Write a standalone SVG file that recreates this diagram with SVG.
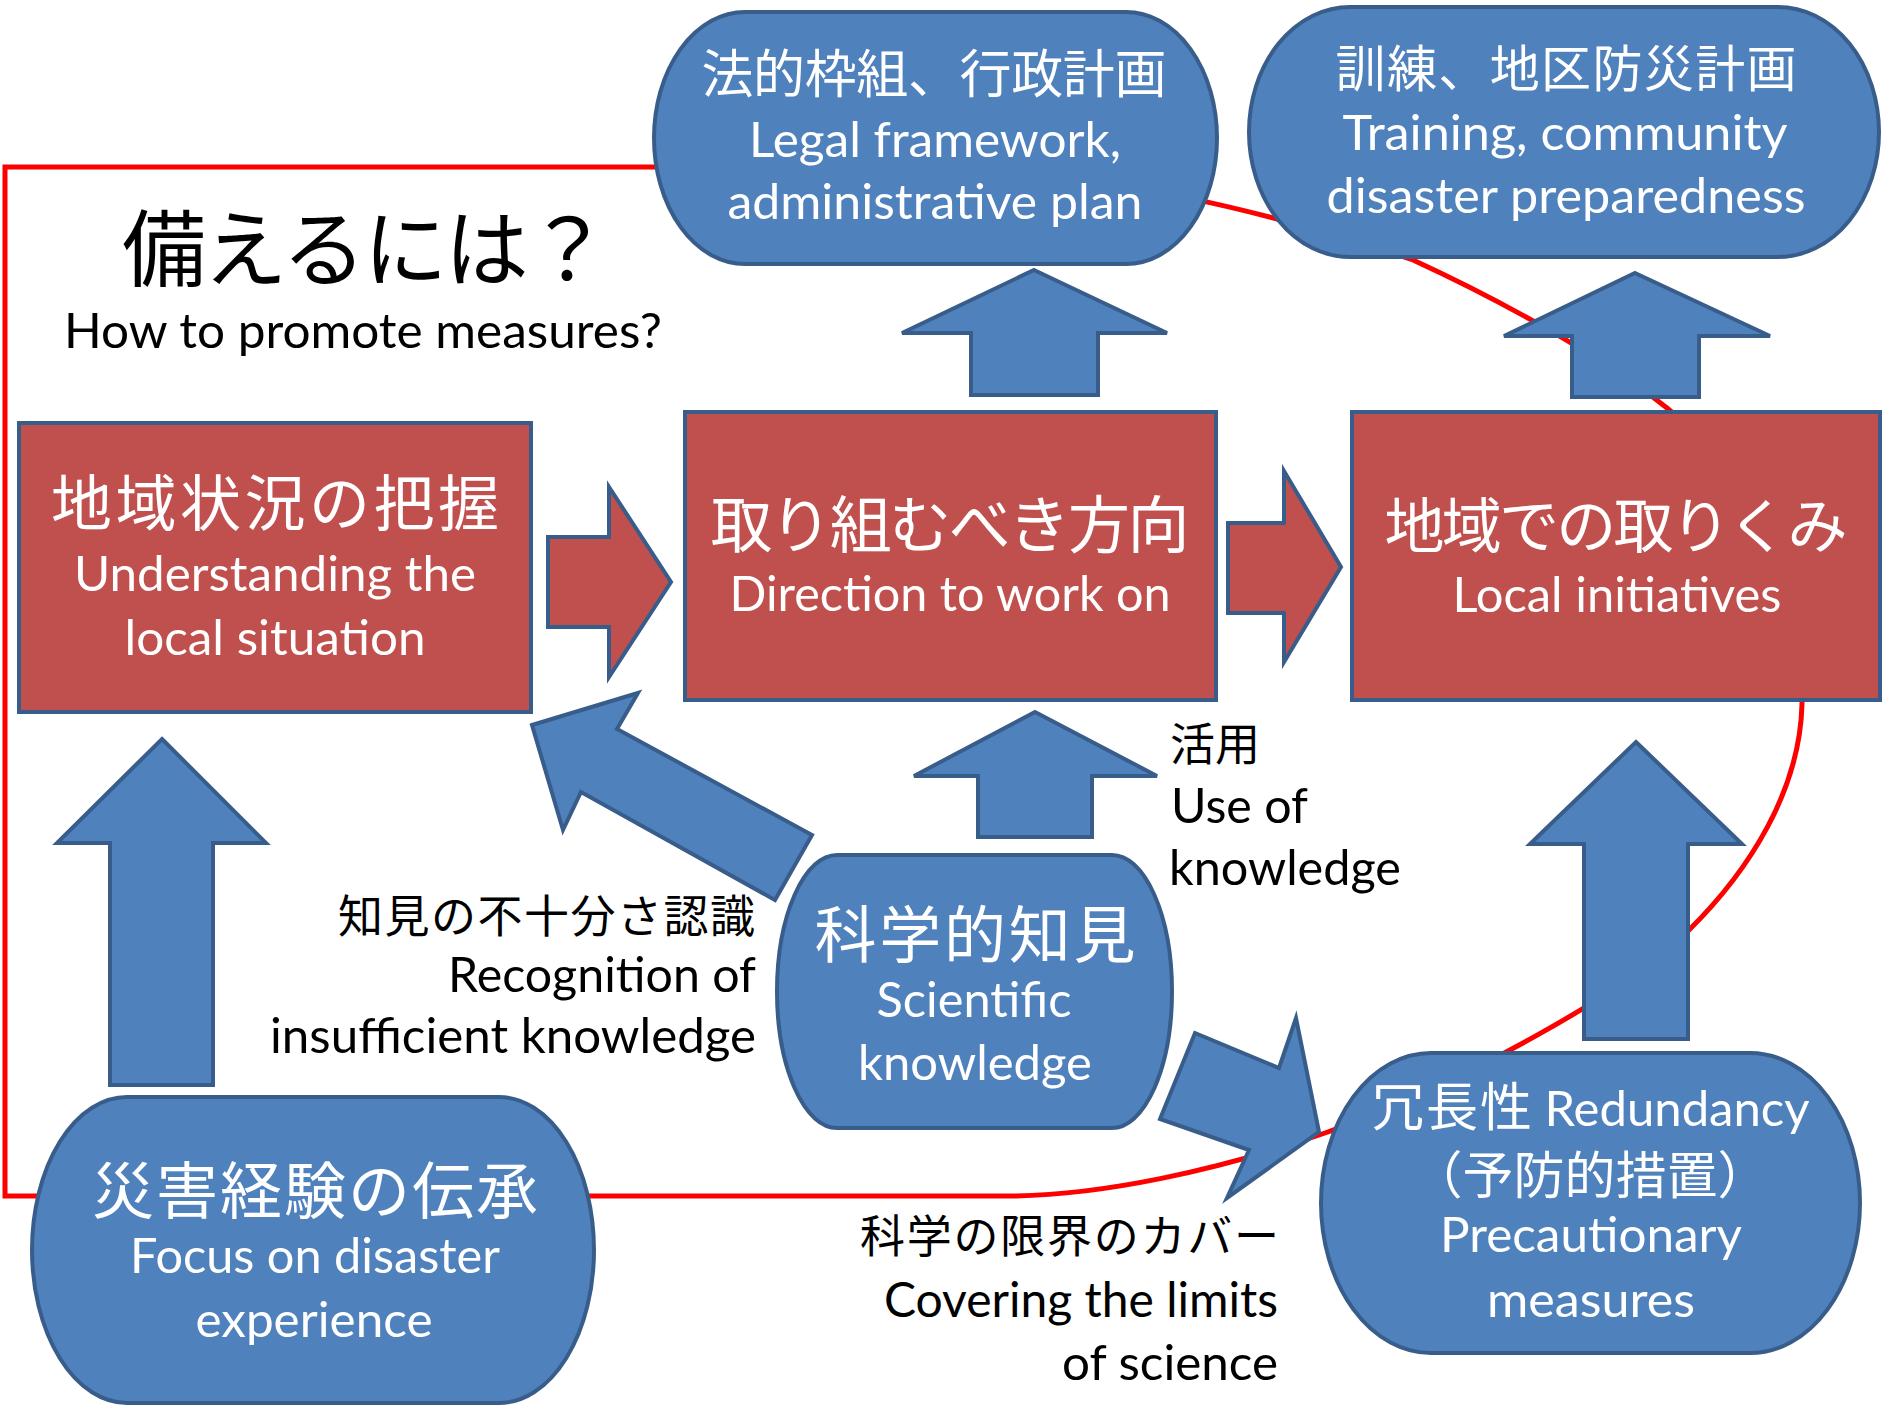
<svg xmlns="http://www.w3.org/2000/svg" width="1883" height="1411" viewBox="0 0 1883 1411">
<style>
.node{fill:#4F81BD;stroke:#385D8A;stroke-width:4}
.box{fill:#C0504D;stroke:#385D8A;stroke-width:4}
.ab{fill:#4F81BD;stroke:#385D8A;stroke-width:4;stroke-linejoin:miter}
.ar{fill:#C0504D;stroke:#385D8A;stroke-width:4;stroke-linejoin:miter}
.loop{fill:none;stroke:#FF0000;stroke-width:5}
.jw{font-family:"Noto Sans CJK JP","Noto Sans CJK SC",sans-serif;fill:#FFFFFF;text-anchor:middle}
.ew{font-family:Lato,"Noto Sans",sans-serif;fill:#FFFFFF;font-size:48px;text-anchor:middle}
.jb{font-family:"Noto Sans CJK JP","Noto Sans CJK SC",sans-serif;fill:#000000;font-size:45px}
.eb{font-family:Lato,"Noto Sans",sans-serif;fill:#000000;font-size:48px}
</style>
<rect x="0" y="0" width="1883" height="1411" fill="#FFFFFF"/>

<g id="connectors">
  <path id="loop" class="loop" d="M 5,1196 V 167 H 900 C 1100,167 1280,215 1413,260 C 1500,300 1600,355 1667,408 C 1740,466 1805,580 1802,704 C 1800,790 1750,870 1688,931 C 1640,985 1450,1090 1325,1133 C 1220,1170 1100,1196 1007,1196 Z"/>
  <polygon id="arrow-focus-understanding" class="ab" points="162,739 266,843 213,843 213,1085 110,1085 110,843 57,843"/>
  <polygon id="arrow-science-direction" class="ab" points="1035,712 1157,776 1092,776 1092,837 978,837 978,776 914,776"/>
  <polygon id="arrow-direction-legal" class="ab" points="1034,270 1167,333 1098,333 1098,395 971,395 971,333 902,333"/>
  <polygon id="arrow-local-training" class="ab" points="1635,273 1770,336 1699,336 1699,397 1572,397 1572,336 1504,336"/>
  <polygon id="arrow-redundancy-local" class="ab" points="1636,742 1742,844 1688,844 1688,1039 1584,1039 1584,844 1530,844"/>
  <polygon id="arrow-understanding-direction" class="ar" points="548,537 609,537 609,487 671,582 609,677 609,627 548,627"/>
  <polygon id="arrow-direction-local" class="ar" points="1228,523 1284,523 1284,471 1341,567 1284,662 1284,613 1228,613"/>
  <polygon id="arrow-science-understanding" class="ab" points="532,725 638,693 617,729 812,835 775,900 581,792 563,830"/>
  <polygon id="arrow-science-redundancy" class="ab" points="1195,1033 1279,1068 1296,1018 1319,1132 1227,1198 1249,1150 1160,1119"/>
</g>

<g id="title">
  <text x="122" y="280" font-family="'Noto Sans CJK JP','Noto Sans CJK SC',sans-serif" font-size="84" fill="#000000" textLength="488" lengthAdjust="spacing">備えるには？</text>
  <text class="eb" x="363" y="348" text-anchor="middle" textLength="598" lengthAdjust="spacingAndGlyphs">How to promote measures?</text>
</g>

<g id="node-legal">
  <rect class="node" x="654" y="12" width="563" height="252" rx="91" ry="126"/>
  <text class="jw" x="934" y="93" font-size="52" textLength="465" lengthAdjust="spacing">法的枠組、行政計画</text>
  <text class="ew" x="935" y="157" textLength="372" lengthAdjust="spacingAndGlyphs">Legal framework,</text>
  <text class="ew" x="935" y="219" textLength="415" lengthAdjust="spacingAndGlyphs">administrative plan</text>
</g>

<g id="node-training">
  <rect class="node" x="1249" y="7" width="630" height="250" rx="101" ry="125"/>
  <text class="jw" x="1566" y="87" font-size="50" textLength="461" lengthAdjust="spacing">訓練、地区防災計画</text>
  <text class="ew" x="1565" y="150" textLength="445" lengthAdjust="spacingAndGlyphs">Training, community</text>
  <text class="ew" x="1566" y="213" textLength="479" lengthAdjust="spacingAndGlyphs">disaster preparedness</text>
</g>

<g id="node-understanding">
  <rect class="box" x="19" y="423" width="512" height="289"/>
  <text class="jw" x="275" y="526" font-size="61" textLength="448" lengthAdjust="spacing">地域状況の把握</text>
  <text class="ew" x="275" y="591" textLength="402" lengthAdjust="spacingAndGlyphs">Understanding the</text>
  <text class="ew" x="275" y="655" textLength="301" lengthAdjust="spacingAndGlyphs">local situation</text>
</g>

<g id="node-direction">
  <rect class="box" x="685" y="412" width="531" height="288"/>
  <text class="jw" x="950" y="548" font-size="62" textLength="479" lengthAdjust="spacing">取り組むべき方向</text>
  <text class="ew" x="950" y="611" textLength="441" lengthAdjust="spacingAndGlyphs">Direction to work on</text>
</g>

<g id="node-local">
  <rect class="box" x="1352" y="412" width="528" height="288"/>
  <text class="jw" x="1616" y="548" font-size="60" textLength="463" lengthAdjust="spacing">地域での取りくみ</text>
  <text class="ew" x="1617" y="612" textLength="329" lengthAdjust="spacingAndGlyphs">Local initiatives</text>
</g>

<g id="node-science">
  <rect class="node" x="777" y="855" width="395" height="273" rx="60" ry="136.5"/>
  <text class="jw" x="975" y="958" font-size="62" textLength="321" lengthAdjust="spacing">科学的知見</text>
  <text class="ew" x="974" y="1017" textLength="195" lengthAdjust="spacingAndGlyphs">Scientific</text>
  <text class="ew" x="975" y="1080" textLength="234" lengthAdjust="spacingAndGlyphs">knowledge</text>
</g>

<g id="node-focus">
  <rect class="node" x="32" y="1097" width="562" height="306" rx="95" ry="153"/>
  <text class="jw" x="315" y="1214" font-size="62" textLength="446" lengthAdjust="spacing">災害経験の伝承</text>
  <text class="ew" x="315" y="1273" textLength="370" lengthAdjust="spacingAndGlyphs">Focus on disaster</text>
  <text class="ew" x="314" y="1337" textLength="237" lengthAdjust="spacingAndGlyphs">experience</text>
</g>

<g id="node-redundancy">
  <rect class="node" x="1321" y="1053" width="539" height="300" rx="110" ry="150"/>
  <text class="jw" x="1452" y="1126" font-size="52" textLength="160" lengthAdjust="spacing">冗長性</text>
  <text class="ew" x="1677" y="1126" textLength="265" lengthAdjust="spacingAndGlyphs">Redundancy</text>
  <text class="jw" x="1590" y="1194" font-size="51">（予防的措置）</text>
  <text class="ew" x="1591" y="1252" textLength="302" lengthAdjust="spacingAndGlyphs">Precautionary</text>
  <text class="ew" x="1591" y="1317" textLength="208" lengthAdjust="spacingAndGlyphs">measures</text>
</g>

<g id="label-insufficient">
  <text class="jb" x="755" y="933" text-anchor="end" textLength="417" lengthAdjust="spacing">知見の不十分さ認識</text>
  <text class="eb" x="756" y="992" text-anchor="end" textLength="308" lengthAdjust="spacingAndGlyphs">Recognition of</text>
  <text class="eb" x="756" y="1053" text-anchor="end" textLength="486" lengthAdjust="spacingAndGlyphs">insufficient knowledge</text>
</g>

<g id="label-use">
  <text class="jb" x="1170" y="761" textLength="90" lengthAdjust="spacing">活用</text>
  <text class="eb" x="1171" y="823" textLength="137" lengthAdjust="spacingAndGlyphs">Use of</text>
  <text class="eb" x="1169" y="885" textLength="232" lengthAdjust="spacingAndGlyphs">knowledge</text>
</g>

<g id="label-limits">
  <text class="jb" x="1279" y="1253" text-anchor="end" textLength="419" lengthAdjust="spacing">科学の限界のカバー</text>
  <text class="eb" x="1278" y="1317" text-anchor="end" textLength="394" lengthAdjust="spacingAndGlyphs">Covering the limits</text>
  <text class="eb" x="1278" y="1380" text-anchor="end" textLength="216" lengthAdjust="spacingAndGlyphs">of science</text>
</g>
</svg>
